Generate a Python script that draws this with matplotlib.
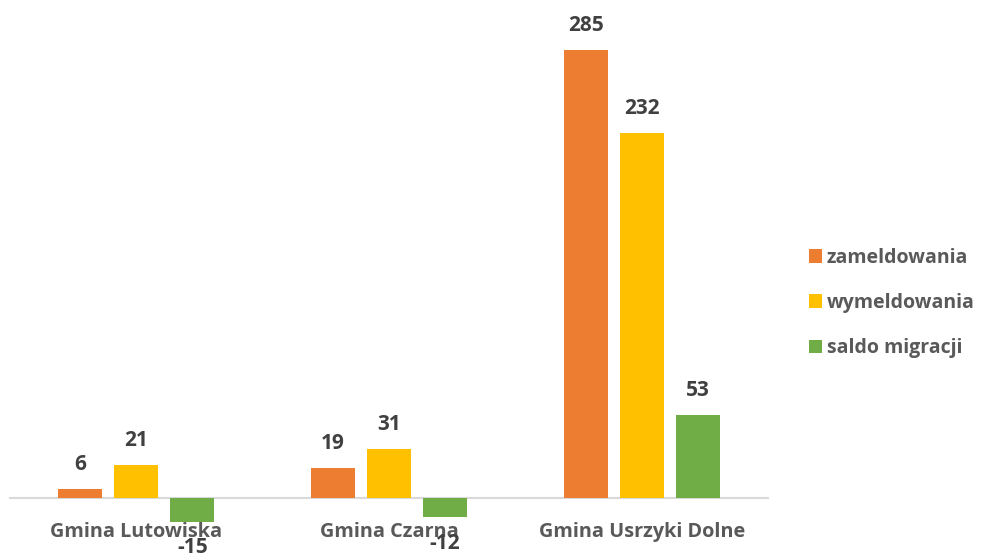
import matplotlib
matplotlib.use("Agg")
import matplotlib.pyplot as plt
import numpy as np

categories = ["Gmina Lutowiska", "Gmina Czarna", "Gmina Usrzyki Dolne"]
series_names = ["zameldowania", "wymeldowania", "saldo migracji"]
zameldowania = [6, 19, 285]
wymeldowania = [21, 31, 232]
saldo = [-15, -12, 53]
colors = ["#ED7D31", "#FFC000", "#70AD47"]

plt.rcParams['font.family'] = ['Open Sans', 'DejaVu Sans']

W, H = 983, 554
fig = plt.figure(figsize=(W / 100, H / 100), dpi=100)

ymin, ymax = -35, 310
ppu = 1.572
zero_px = 498
bottom_px = zero_px - ymin * ppu
top_px = zero_px - ymax * ppu
left_px, right_px = 10, 768
ax = fig.add_axes([left_px / W, (H - bottom_px) / H, (right_px - left_px) / W, (bottom_px - top_px) / H])
ax.set_xlim(-0.5, 2.5)
ax.set_ylim(ymin, ymax)

x = np.arange(len(categories))
width = 0.174
offsets = [-0.222, 0, 0.222]
all_series = [zameldowania, wymeldowania, saldo]
for vals, off, col, name in zip(all_series, offsets, colors, series_names):
    bars = ax.bar(x + off, vals, width, color=col, label=name, zorder=2)
    for xi, v in zip(x + off, vals):
        ax.annotate(str(v), (xi, v), xytext=(0, 17.5 if v >= 0 else -19),
                    textcoords='offset points', ha='center', va='center',
                    fontsize=15, fontweight='bold', color='#404040',
                    annotation_clip=False)

for s in ['top', 'right', 'left']:
    ax.spines[s].set_visible(False)
ax.spines['bottom'].set_position(('data', 0))
ax.spines['bottom'].set_color('#D9D9D9')
ax.spines['bottom'].set_linewidth(1.5)
ax.spines['bottom'].set_zorder(1)
ax.set_yticks([])
ax.set_xticks(x)
ax.set_xticklabels(categories, fontsize=14.3, fontweight='bold', color='#595959')
ax.tick_params(axis='x', length=0, pad=17)
ax.patch.set_alpha(0)

leg = fig.legend(loc='center left', bbox_to_anchor=(791 / W, 1 - 303 / H), frameon=False,
                 fontsize=14, labelspacing=1.3, handlelength=0.7, handleheight=0.7,
                 handletextpad=0.25)
for t in leg.get_texts():
    t.set_color('#595959')
    t.set_fontweight('bold')

fig.savefig("out.png", dpi=100)
